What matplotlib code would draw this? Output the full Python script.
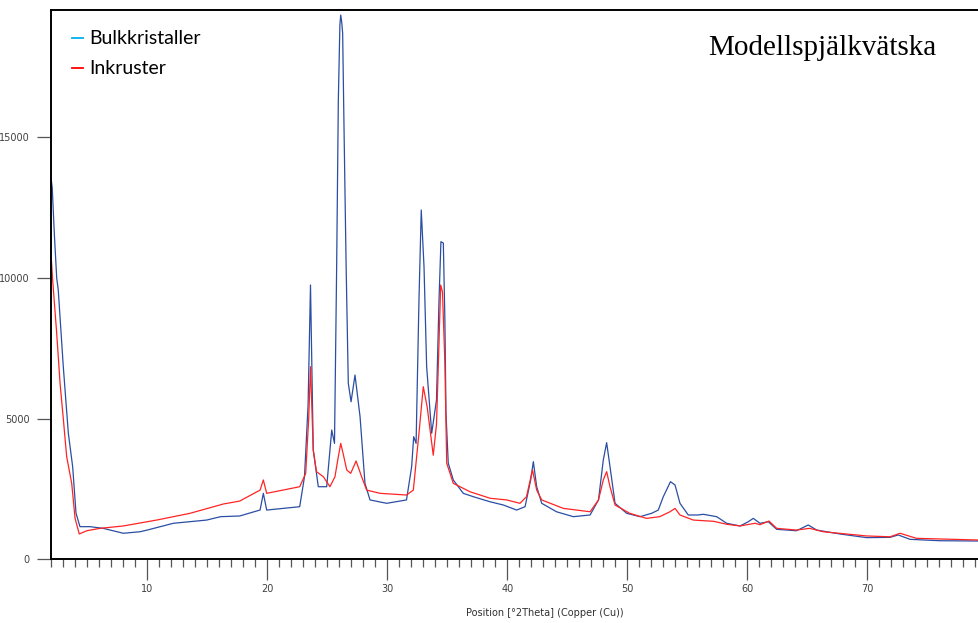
import matplotlib
matplotlib.use("Agg")
import matplotlib.pyplot as plt
from matplotlib.ticker import MultipleLocator

# Bulkkristaller (blue)
blue_x = [1.95, 2.08, 2.25, 2.45, 2.58, 3.0, 3.42, 3.78, 4.06, 4.39, 5.22, 6.33, 8.0, 9.4, 10.0,
          12.17, 14.95, 16.1, 17.7, 19.4, 19.67, 19.95, 22.7, 23.1, 23.4, 23.6, 23.83, 24.25, 24.95,
          25.37, 25.6, 25.78, 25.92, 26.05, 26.12, 26.2, 26.28, 26.4, 26.57, 26.75, 26.98, 27.31,
          27.73, 28.14, 28.56, 29.95, 31.6, 32.03, 32.2, 32.4, 32.64, 32.83, 33.06, 33.28, 33.7,
          34.1, 34.31, 34.47, 34.67, 34.8, 34.89, 35.08, 35.5, 36.33, 37.17, 38.56, 39.67, 40.78,
          41.48, 41.95, 42.17, 42.45, 42.87, 44.1, 45.5, 46.9, 47.6, 48.0, 48.28, 48.56, 48.98,
          49.95, 51.06, 52.03, 52.58, 53.0, 53.6, 53.98, 54.39, 55.08, 55.9, 56.33, 57.45, 58.28,
          59.4, 60.08, 60.5, 61.06, 61.75, 62.45, 64.1, 65.08, 65.78, 67.72, 69.95, 71.9, 72.58,
          73.56, 76.06, 79.31]
blue_y = [13660, 13200, 11590, 10000, 9570, 6845, 4480, 3290, 1635, 1160, 1160, 1100, 925, 980, 1040,
          1280, 1395, 1515, 1540, 1752, 2345, 1750, 1870, 2935, 5500, 9750, 3885, 2580, 2580,
          4595, 4120, 10400, 16325, 19000, 19345, 19100, 18700, 15150, 10400, 6255, 5600, 6550,
          5070, 2700, 2110, 1990, 2110, 3290, 4360, 4120, 9215, 12415, 10400, 6845, 4480,
          5660, 9215, 11290, 11240, 8500, 5200, 3420, 2820, 2345, 2225, 2045, 1930, 1750,
          1870, 2820, 3470, 2580, 1990, 1690, 1515, 1575, 2110, 3530, 4145, 3290, 1990,
          1635, 1515, 1635, 1750, 2225, 2760, 2640, 1990, 1575, 1575, 1600, 1515, 1280,
          1185, 1335, 1455, 1280, 1335, 1065, 1015, 1220, 1040, 900, 770, 780, 865,
          710, 660, 650]

# Inkruster (red)
red_x = [2.0, 2.1, 2.45, 2.73, 3.0, 3.28, 3.7, 3.98, 4.33, 4.95, 6.06, 8.0, 10.78, 13.56, 16.33,
         17.7, 19.4, 19.67, 19.95, 22.7, 23.2, 23.45, 23.6, 23.83, 24.1, 24.67, 25.22, 25.64,
         25.9, 26.12, 26.35, 26.62, 26.95, 27.4, 27.86, 28.28, 29.4, 31.6, 32.17, 32.64, 33.0,
         33.33, 33.83, 34.1, 34.25, 34.45, 34.6, 34.8, 34.95, 35.5, 36.9, 38.56, 39.95, 41.06,
         41.6, 42.1, 42.45, 42.87, 44.67, 46.9, 47.6, 48.0, 48.28, 48.56, 48.98, 50.2, 51.6,
         52.7, 53.56, 53.98, 54.39, 55.5, 57.2, 58.28, 59.4, 60.64, 61.06, 61.81, 62.45, 64.1,
         65.2, 66.33, 69.95, 71.9, 72.73, 74.1, 79.31]
red_y = [10700, 10000, 8030, 6255, 5000, 3650, 2700, 1455, 900, 1015, 1100, 1185, 1395, 1635, 1965,
         2070, 2460, 2820, 2345, 2580, 3055, 5000, 6845, 3885, 3115, 2935, 2580, 2935,
         3600, 4120, 3700, 3175, 3055, 3495, 2935, 2460, 2345, 2285, 2460, 4480, 6135,
         5400, 3700, 4800, 6845, 9750, 9500, 6970, 3420, 2700, 2400, 2170, 2110, 1990,
         2225, 3175, 2460, 2110, 1810, 1690, 2110, 2820, 3115, 2580, 1930, 1635, 1455,
         1515, 1690, 1810, 1575, 1395, 1350, 1245, 1185, 1280, 1230, 1360, 1100, 1040,
         1100, 980, 830, 800, 925, 745, 685]

W, H = 979, 623
fig = plt.figure(figsize=(W / 100, H / 100), dpi=100)
ax = fig.add_axes([50.7 / W, (H - 559.3) / H, (W - 50.7) / W, (559.3 - 10) / H])

ax.plot(blue_x, blue_y, color='#2a4ea3', lw=0.9)
ax.plot(red_x, red_y, color='#ff2424', lw=0.9)

ax.set_xlim(1.95, 79.31)
ax.set_ylim(0, 19525)
ax.spines['right'].set_visible(False)
for s in ['top', 'left', 'bottom']:
    ax.spines[s].set_linewidth(1.4)

ax.xaxis.set_major_locator(MultipleLocator(10))
ax.xaxis.set_minor_locator(MultipleLocator(1))
ax.yaxis.set_major_locator(MultipleLocator(5000))
ax.tick_params(axis='x', which='major', direction='out', length=15, width=0.9,
               labelsize=7, labelcolor='#404040', color='#555555', pad=3)
ax.tick_params(axis='x', which='minor', direction='out', length=6, width=0.9, color='#555555')
ax.tick_params(axis='y', which='major', direction='out', length=10, width=0.9,
               labelsize=7, labelcolor='#404040', color='#555555', pad=5)

fig.text(545 / W, 1 - 613 / H, 'Position [°2Theta] (Copper (Cu))', ha='center', va='center',
         fontsize=7, color='#303030')

# legend drawn as short lines + text
fig.add_artist(plt.Line2D([71.7 / W, 83.3 / W], [1 - 38.3 / H] * 2, color='#00b0f0', lw=1.3))
fig.add_artist(plt.Line2D([71.7 / W, 83.3 / W], [1 - 68.3 / H] * 2, color='#ff0000', lw=1.3))
fig.text(89 / W, 1 - 38.3 / H, 'Bulkkristaller', ha='left', va='center', fontsize=14,
         family='Lato', color='#000000')
fig.text(89 / W, 1 - 68.3 / H, 'Inkruster', ha='left', va='center', fontsize=14,
         family='Lato', color='#000000')

fig.text(708 / W, 1 - 55 / H, 'Modellspjälkvätska', ha='left', va='baseline', fontsize=21,
         family='Liberation Serif', color='#000000')

fig.savefig('out.png', dpi=100)
